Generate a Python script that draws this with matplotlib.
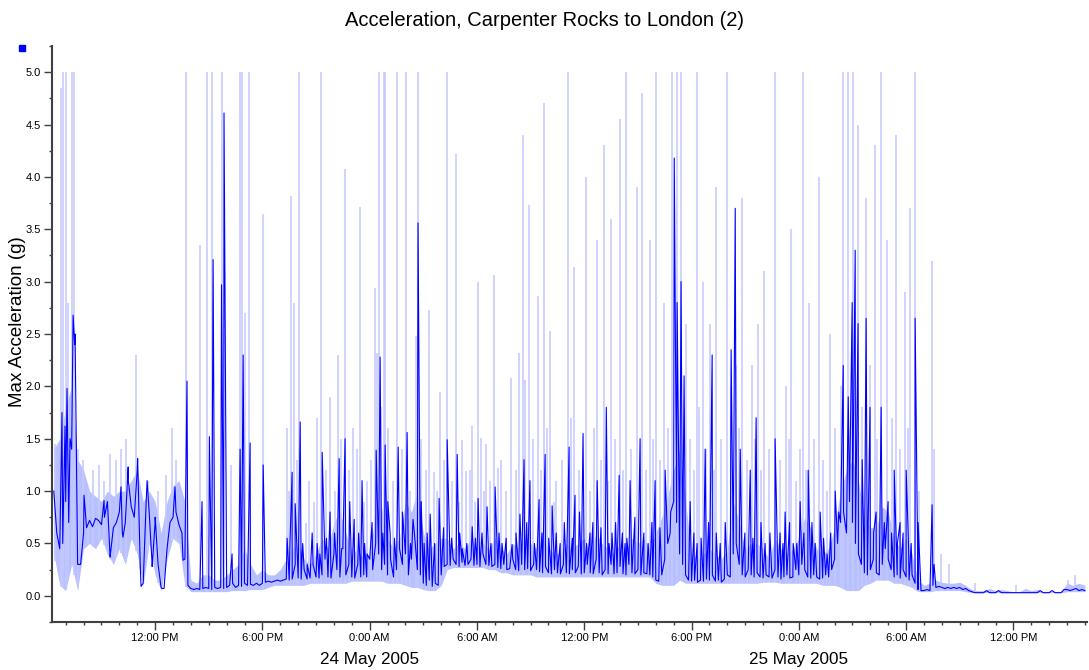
import matplotlib
matplotlib.use("Agg")
import matplotlib.pyplot as plt
import matplotlib.dates as mdates
from matplotlib.ticker import FuncFormatter, MultipleLocator, FormatStrFormatter
from matplotlib.lines import Line2D
import numpy as np
import pandas as pd

title = "Acceleration, Carpenter Rocks to London (2)"
y_label = "Max Acceleration (g)"
date_labels = ["24 May 2005", "25 May 2005"]
date_label_times = ["2005-05-24 00:00", "2005-05-25 00:00"]
series_start = "2005-05-23 06:20"
dark_step_minutes = 10
light_step_minutes = 20
x_start = "2005-05-23 06:14"
x_end = "2005-05-25 16:07"

# dark trace, 10-minute samples
dark_base = [1.00, 0.60, 0.45, 0.50, 0.90, 0.70, 1.40, 2.40, 0.30, 0.30,
             0.60, 0.65, 0.72, 0.66, 0.74, 0.72, 0.68, 0.75, 0.90, 0.40,
             0.65, 0.70, 0.80, 0.60, 0.70, 1.10, 0.85, 0.75, 1.20, 0.30,
             0.12, 0.90, 0.80, 0.30, 0.70, 0.30, 0.08, 0.07, 0.45, 0.70,
             0.75, 0.80, 0.68, 0.60, 0.35, 0.10, 0.07, 0.06, 0.07, 0.06,
             0.07, 0.08, 0.07, 0.06, 0.08, 0.07, 0.08, 0.07, 0.08, 0.10,
             0.12, 0.08, 0.10, 0.09, 0.12, 0.10, 0.11, 0.10, 0.12, 0.10,
             0.12, 0.13, 0.14, 0.13, 0.14, 0.15, 0.14, 0.15, 0.16, 0.15,
             0.16, 0.30, 0.17, 0.16, 0.25, 0.16, 0.17, 0.30, 0.18, 0.17,
             0.20, 0.35, 0.18, 0.17, 0.40, 0.25, 0.18, 0.45, 0.20, 0.30,
             0.18, 0.17, 0.30, 0.18, 0.20, 0.18, 0.35, 0.25, 0.50, 0.40,
             0.25, 0.30, 0.20, 0.35, 0.18, 0.25, 0.45, 0.30, 0.40, 0.20,
             0.35, 0.60, 0.25, 0.20, 0.12, 0.10, 0.15, 0.09, 0.12, 0.10,
             0.20, 0.28, 0.30, 0.29, 0.35, 0.30, 0.28, 0.32, 0.29, 0.30,
             0.35, 0.29, 0.30, 0.28, 0.40, 0.30, 0.29, 0.28, 0.30, 0.27,
             0.26, 0.30, 0.25, 0.26, 0.35, 0.25, 0.24, 0.30, 0.25, 0.26,
             0.24, 0.30, 0.25, 0.23, 0.22, 0.28, 0.22, 0.21, 0.25, 0.22,
             0.21, 0.30, 0.22, 0.21, 0.25, 0.22, 0.28, 0.21, 0.22, 0.30,
             0.22, 0.21, 0.35, 0.22, 0.20, 0.25, 0.21, 0.30, 0.21, 0.22,
             0.28, 0.21, 0.20, 0.30, 0.22, 0.21, 0.25, 0.20, 0.22, 0.21,
             0.20, 0.18, 0.15, 0.14, 0.20, 0.35, 0.50, 0.80, 0.90, 0.70,
             0.40, 0.30, 0.20, 0.15, 0.14, 0.15, 0.13, 0.15, 0.14, 0.16,
             0.15, 0.20, 0.14, 0.15, 0.13, 0.16, 0.20, 0.18, 0.40, 0.50,
             0.30, 0.20, 0.18, 0.25, 0.20, 0.18, 0.22, 0.18, 0.17, 0.20,
             0.18, 0.17, 0.25, 0.18, 0.16, 0.18, 0.20, 0.17, 0.18, 0.25,
             0.20, 0.30, 0.25, 0.18, 0.17, 0.20, 0.18, 0.16, 0.17, 0.20,
             0.18, 0.25, 0.35, 0.50, 0.70, 0.80, 0.60, 0.90, 0.70, 0.50,
             0.40, 0.30, 0.22, 0.20, 0.25, 0.35, 0.22, 0.20, 0.30, 0.45,
             0.35, 0.25, 0.18, 0.20, 0.17, 0.25, 0.18, 0.15, 0.20, 0.12,
             0.06, 0.05, 0.05, 0.06, 0.05, 0.10, 0.08, 0.09, 0.08, 0.07,
             0.08, 0.07, 0.08, 0.07, 0.08, 0.06, 0.07, 0.05, 0.04, 0.03,
             0.03, 0.03, 0.03, 0.05, 0.03, 0.03, 0.03, 0.05, 0.03, 0.03,
             0.03, 0.03, 0.03, 0.03, 0.03, 0.03, 0.03, 0.03, 0.03, 0.03,
             0.03, 0.05, 0.03, 0.03, 0.03, 0.05, 0.03, 0.03, 0.03, 0.06,
             0.06, 0.05, 0.06, 0.07, 0.05, 0.06, 0.05]

# light (max) band, 20-minute samples: low / high envelope
light_lo = [0.40, 0.10, 0.05, 0.30, 0.05, 0.45, 0.50, 0.45, 0.55, 0.40,
            0.30, 0.45, 0.30, 0.55, 0.40, 0.10, 0.50, 0.20, 0.05, 0.35,
            0.55, 0.50, 0.10, 0.04, 0.04, 0.04, 0.04, 0.04, 0.04, 0.04,
            0.05, 0.05, 0.05, 0.06, 0.06, 0.06, 0.08, 0.10, 0.10, 0.10,
            0.10, 0.10, 0.10, 0.12, 0.12, 0.12, 0.12, 0.12, 0.12, 0.12,
            0.14, 0.14, 0.14, 0.14, 0.14, 0.14, 0.12, 0.12, 0.12, 0.10,
            0.08, 0.08, 0.06, 0.05, 0.05, 0.10, 0.25, 0.27, 0.27, 0.27,
            0.27, 0.27, 0.27, 0.25, 0.25, 0.22, 0.22, 0.20, 0.20, 0.20,
            0.20, 0.18, 0.18, 0.18, 0.18, 0.18, 0.18, 0.18, 0.18, 0.18,
            0.18, 0.18, 0.18, 0.18, 0.18, 0.18, 0.18, 0.18, 0.18, 0.18,
            0.18, 0.12, 0.10, 0.10, 0.10, 0.15, 0.12, 0.12, 0.12, 0.12,
            0.12, 0.12, 0.12, 0.12, 0.12, 0.12, 0.12, 0.12, 0.12, 0.13,
            0.13, 0.13, 0.12, 0.12, 0.12, 0.12, 0.12, 0.12, 0.12, 0.10,
            0.10, 0.10, 0.08, 0.05, 0.05, 0.05, 0.10, 0.12, 0.15, 0.15,
            0.15, 0.12, 0.12, 0.10, 0.08, 0.04, 0.04, 0.04, 0.05, 0.05,
            0.05, 0.05, 0.05, 0.04, 0.03, 0.03, 0.03, 0.03, 0.03, 0.03,
            0.03, 0.03, 0.03, 0.03, 0.03, 0.03, 0.03, 0.03, 0.03, 0.03,
            0.04, 0.04, 0.04, 0.04]

light_hi = [1.40, 1.50, 1.80, 2.00, 1.30, 1.20, 1.00, 0.95, 0.90, 1.00,
            0.95, 1.00, 1.00, 1.10, 1.20, 0.90, 1.00, 0.90, 0.60, 0.90,
            1.05, 1.10, 0.90, 0.15, 0.12, 0.20, 0.20, 0.15, 0.15, 0.20,
            0.25, 0.30, 0.45, 0.30, 0.20, 0.25, 0.20, 0.20, 0.25, 0.35,
            0.45, 0.50, 0.35, 0.30, 0.40, 0.55, 0.45, 0.70, 0.80, 0.60,
            0.40, 0.45, 0.35, 0.40, 0.80, 0.85, 0.55, 0.45, 0.55, 0.90,
            0.80, 1.00, 0.60, 0.45, 0.50, 0.55, 0.55, 0.45, 0.50, 0.45,
            0.55, 0.45, 0.50, 0.45, 0.55, 0.45, 0.40, 0.50, 0.45, 0.55,
            0.50, 0.45, 0.55, 0.45, 0.40, 0.40, 0.50, 0.45, 0.50, 0.55,
            0.40, 0.60, 0.50, 0.45, 0.40, 0.50, 0.45, 0.55, 0.50, 0.55,
            0.45, 0.60, 0.75, 0.95, 1.20, 1.40, 0.90, 0.40, 0.35, 0.40,
            0.45, 0.40, 0.35, 0.45, 0.90, 0.70, 0.45, 0.50, 0.50, 0.45,
            0.35, 0.55, 0.45, 0.40, 0.45, 0.55, 0.75, 0.65, 0.45, 0.40,
            0.45, 0.65, 1.00, 1.20, 1.30, 1.10, 0.75, 0.65, 0.65, 0.85,
            0.80, 0.55, 0.45, 0.55, 0.40, 0.15, 0.10, 0.12, 0.15, 0.13,
            0.12, 0.12, 0.13, 0.10, 0.06, 0.05, 0.05, 0.07, 0.05, 0.06,
            0.05, 0.04, 0.04, 0.07, 0.05, 0.06, 0.04, 0.04, 0.04, 0.04,
            0.12, 0.10, 0.12, 0.10]

# dark trace peaks / dips (hours after series start, g)
dark_peak_h = [0.46, 0.63, 0.74, 0.91, 1.08, 1.19, 1.69, 2.81, 3.15, 3.76,
               3.87, 4.16, 4.69, 4.88, 5.22, 5.50, 5.67, 6.06, 6.78, 7.23,
               7.45, 8.29, 8.70, 8.91, 9.38, 9.52, 9.97, 10.42, 10.59, 10.98,
               11.71, 13.05, 13.33, 13.50, 13.78, 14.17, 14.73, 15.01, 15.45, 15.96,
               16.29, 16.80, 17.24, 17.52, 18.03, 18.25, 18.53, 18.81, 19.26, 19.76,
               20.09, 20.37, 20.71, 21.05, 21.55, 22.00, 22.56, 22.84, 23.40, 23.73,
               24.23, 24.68, 25.07, 25.63, 26.07, 26.30, 26.63, 27.14, 27.48, 27.87,
               28.32, 28.82, 29.15, 29.60, 29.99, 30.39, 30.90, 31.22, 31.62, 31.95,
               32.23, 32.79, 33.24, 33.63, 34.19, 34.47, 34.70, 34.86, 35.08, 35.25,
               35.59, 35.98, 36.43, 36.82, 37.27, 37.88, 38.11, 38.39, 38.95, 39.28,
               39.78, 40.34, 40.62, 40.90, 41.35, 41.74, 42.19, 42.58, 42.86, 43.25,
               43.70, 44.15, 44.43, 44.65, 44.82, 44.98, 45.21, 45.43, 45.65, 45.99,
               46.27, 46.66, 47.00, 47.33, 47.67, 47.95, 48.17, 48.34, 49.12, 49.23]
dark_peak_v = [1.75, 1.62, 1.98, 1.50, 2.68, 2.50, 0.96, 0.91, 0.37, 1.04,
               0.56, 1.23, 1.31, 0.09, 1.10, 0.28, 0.75, 0.07, 1.04, 0.34,
               2.05, 0.90, 1.52, 3.21, 2.97, 4.61, 0.40, 1.40, 2.30, 1.46,
               1.25, 0.55, 1.18, 0.88, 1.66, 0.30, 0.50, 1.37, 0.80, 1.31,
               1.50, 0.73, 1.10, 0.40, 1.39, 2.28, 1.44, 0.60, 1.42, 1.56,
               0.73, 3.56, 0.50, 0.78, 0.93, 1.49, 1.35, 0.45, 0.66, 0.93,
               0.85, 1.04, 0.50, 0.49, 0.78, 1.30, 1.10, 0.92, 1.35, 0.86,
               0.50, 1.42, 0.96, 1.55, 0.60, 1.10, 1.80, 0.60, 1.15, 0.50,
               1.10, 1.50, 0.50, 1.10, 1.20, 0.60, 4.18, 2.80, 3.00, 2.10,
               0.90, 0.50, 1.40, 2.30, 0.50, 2.35, 3.70, 1.40, 1.20, 1.70,
               0.50, 1.50, 0.60, 0.80, 0.50, 0.90, 1.20, 0.50, 0.80, 0.40,
               1.00, 2.20, 1.90, 2.80, 3.30, 2.60, 1.30, 2.65, 1.80, 0.80,
               1.80, 0.90, 1.20, 0.70, 1.20, 0.50, 2.65, 0.70, 0.87, 0.30]

# smaller dark peaks in the busy stretch
dark_minor_h = [13.20, 13.92, 14.45, 14.88, 15.25, 15.70, 16.10, 16.55, 17.05, 17.38,
                17.80, 18.40, 18.68, 19.05, 19.50, 19.95, 20.55, 20.88, 21.30, 21.80,
                22.25, 22.70, 23.10, 23.58, 23.95, 24.45, 24.90, 25.30, 25.85, 26.45,
                26.88, 27.30, 27.68, 28.10, 28.55, 29.00, 29.40, 29.80, 30.15, 30.60,
                31.05, 31.42, 31.80, 32.05, 32.50, 33.00, 33.45, 33.90, 35.80, 36.20,
                36.62, 37.05, 37.55, 38.65, 39.10, 39.55, 40.05, 40.78, 41.15, 41.55,
                41.95, 42.40, 43.05, 43.45, 43.90, 45.85, 46.45, 46.85, 47.18, 47.50,
                47.80]
dark_minor_v = [0.45, 0.50, 0.60, 0.40, 0.55, 0.60, 0.45, 0.90, 0.60, 0.50,
                0.70, 0.60, 0.90, 0.55, 0.80, 0.50, 0.90, 0.60, 0.50, 0.65,
                0.55, 0.60, 0.50, 0.55, 0.60, 0.50, 0.60, 0.55, 0.60, 0.70,
                0.50, 0.60, 0.55, 0.60, 0.70, 0.55, 0.80, 0.50, 0.70, 0.65,
                0.50, 0.70, 0.60, 0.55, 0.75, 0.60, 0.70, 0.65, 0.60, 0.55,
                0.70, 0.60, 0.70, 0.60, 0.55, 0.70, 0.60, 0.50, 0.70, 0.50,
                0.60, 0.70, 0.55, 0.60, 0.80, 0.60, 0.70, 0.60, 0.50, 0.60,
                0.50]

# light (max) isolated spikes (hours after series start, g)
light_spike_h = [0.07, 0.39, 0.46, 0.52, 0.70, 0.80, 1.02, 1.14, 1.36, 1.64,
                 1.92, 2.20, 2.53, 2.81, 3.15, 3.48, 3.76, 4.04, 4.38, 4.60,
                 4.83, 5.27, 5.83, 6.28, 6.62, 6.84, 7.40, 8.18, 8.58, 8.85,
                 9.41, 9.92, 10.42, 10.53, 10.70, 10.93, 11.71, 13.05, 13.27, 13.44,
                 13.72, 14.11, 14.73, 14.95, 15.45, 15.90, 16.29, 16.74, 17.13, 17.52,
                 17.97, 18.08, 18.19, 18.30, 18.47, 18.53, 19.20, 19.70, 20.26, 20.37,
                 20.99, 21.27, 21.60, 22.00, 22.50, 22.84, 23.06, 23.40, 23.73, 23.90,
                 24.18, 24.63, 24.85, 25.58, 26.02, 26.25, 26.36, 26.58, 27.09, 27.42,
                 27.76, 27.98, 28.76, 29.10, 29.77, 30.39, 30.78, 31.17, 31.67, 32.01,
                 32.62, 32.90, 33.35, 33.68, 34.13, 34.58, 34.86, 35.08, 35.36, 35.98,
                 36.31, 36.71, 37.04, 37.66, 38.16, 38.49, 39.05, 39.39, 39.73, 40.34,
                 40.96, 41.24, 41.91, 42.24, 42.80, 43.42, 44.15, 44.43, 44.70, 44.98,
                 45.43, 45.93, 46.27, 46.60, 47.11, 47.61, 47.89, 48.17, 49.12]
light_spike_v = [1.45, 4.85, 1.50, 5.00, 5.00, 2.80, 5.00, 5.00, 1.40, 1.30,
                 1.00, 1.20, 1.25, 1.10, 1.35, 1.30, 1.40, 1.50, 1.00, 2.30,
                 1.00, 1.10, 1.00, 1.15, 1.60, 1.30, 5.00, 3.35, 5.00, 5.00,
                 5.00, 1.25, 5.00, 5.00, 2.70, 5.00, 3.65, 1.60, 3.82, 2.80,
                 5.00, 0.70, 1.70, 5.00, 1.90, 2.30, 4.08, 1.60, 3.71, 1.10,
                 2.94, 2.32, 5.00, 1.80, 5.00, 5.00, 5.00, 5.00, 2.48, 5.00,
                 2.73, 1.18, 1.95, 5.00, 4.22, 1.49, 1.19, 1.62, 3.00, 1.51,
                 1.45, 3.06, 1.22, 2.08, 2.32, 4.40, 2.06, 3.73, 2.86, 4.71,
                 2.53, 0.90, 5.00, 3.14, 4.00, 3.40, 4.30, 3.60, 4.55, 5.00,
                 3.90, 4.80, 3.40, 5.00, 2.80, 5.00, 5.00, 5.00, 2.60, 5.00,
                 3.00, 2.60, 3.90, 5.00, 2.20, 3.80, 2.20, 2.60, 3.10, 5.00,
                 2.00, 3.50, 5.00, 2.80, 4.00, 2.50, 5.00, 5.00, 5.00, 4.50,
                 3.80, 4.30, 5.00, 3.40, 4.40, 2.90, 3.70, 5.00, 3.20]

# smaller light spikes
light_minor_h = [13.15, 13.60, 14.30, 14.55, 15.20, 15.70, 16.05, 16.50, 16.95, 17.35,
                 17.75, 18.70, 18.95, 19.45, 19.90, 20.55, 20.80, 21.45, 21.80, 22.25,
                 22.65, 23.25, 23.55, 24.05, 24.40, 25.00, 25.30, 25.85, 26.80, 27.25,
                 27.60, 28.10, 28.45, 28.95, 29.40, 30.00, 30.20, 30.60, 31.00, 31.40,
                 31.85, 32.30, 33.10, 33.50, 33.90, 34.35, 35.60, 35.80, 36.10, 36.50,
                 36.90, 37.30, 37.85, 38.30, 38.75, 39.20, 39.55, 40.00, 40.60, 41.10,
                 41.50, 41.75, 42.05, 42.50, 43.00, 43.25, 43.70, 44.00, 45.20, 45.65,
                 46.05, 46.85, 47.30, 47.75, 48.40, 49.25, 49.60, 50.05, 51.50, 53.80,
                 56.70, 57.10]
light_minor_v = [1.00, 1.30, 1.10, 0.90, 1.20, 1.00, 1.50, 1.20, 1.40, 0.90,
                 1.30, 1.60, 1.10, 1.40, 1.00, 1.50, 1.20, 1.00, 1.30, 1.10,
                 0.90, 1.20, 0.90, 1.00, 1.10, 1.30, 1.00, 1.20, 1.50, 1.20,
                 1.60, 1.10, 1.30, 1.70, 1.20, 1.00, 1.60, 1.30, 1.10, 1.50,
                 1.20, 1.40, 1.20, 1.50, 1.30, 1.60, 1.50, 1.20, 1.80, 1.40,
                 1.20, 1.50, 2.00, 1.60, 1.30, 1.50, 1.20, 1.40, 1.30, 1.50,
                 1.10, 1.40, 1.20, 1.50, 1.30, 1.00, 1.60, 2.00, 1.80, 2.20,
                 1.50, 1.70, 1.40, 1.60, 1.00, 1.40, 0.40, 0.30, 0.12, 0.10,
                 0.15, 0.20]

DARK = "#0000FF"
LIGHT = "#B9C0FF"
LIGHT_SPIKE = "#C3C8FF"
AXIS = "#404040"

plt.rcParams["font.family"] = ["Liberation Sans", "DejaVu Sans"]

t0 = pd.Timestamp(series_start)
t_dark = pd.date_range(series_start, periods=len(dark_base), freq=f"{dark_step_minutes}min")
t_light = pd.date_range(series_start, periods=len(light_lo), freq=f"{light_step_minutes}min")
light_num = mdates.date2num(t_light.to_pydatetime())

dark = pd.concat([
    pd.Series(dark_base, index=t_dark),
    pd.Series(dark_peak_v, index=t0 + pd.to_timedelta(dark_peak_h, unit="h")),
    pd.Series(dark_minor_v, index=t0 + pd.to_timedelta(dark_minor_h, unit="h")),
]).sort_index()

spikes = pd.concat([
    pd.Series(light_spike_v, index=t0 + pd.to_timedelta(light_spike_h, unit="h")),
    pd.Series(light_minor_v, index=t0 + pd.to_timedelta(light_minor_h, unit="h")),
]).sort_index()
spike_num = mdates.date2num(spikes.index.to_pydatetime())
spike_base = np.interp(spike_num, light_num, light_lo)

fig = plt.figure(figsize=(10.89, 6.70), dpi=100)
ax = fig.add_axes([52 / 1089, 48 / 670, (1087 - 52) / 1089, (622 - 46) / 670])

ax.fill_between(t_light, light_lo, light_hi, color=LIGHT, lw=0, zorder=1)
ax.vlines(spikes.index, spike_base, spikes.values, color=LIGHT_SPIKE, lw=1.1, zorder=1)
ax.plot(dark.index, dark.values, color=DARK, lw=0.8, zorder=2)

ax.set_xlim(pd.Timestamp(x_start), pd.Timestamp(x_end))
ax.set_ylim(-0.25, 5.25)

for s in ["top", "right"]:
    ax.spines[s].set_visible(False)
for s in ["left", "bottom"]:
    ax.spines[s].set_color(AXIS)
    ax.spines[s].set_linewidth(1.5)

ax.yaxis.set_major_locator(MultipleLocator(0.5))
ax.yaxis.set_minor_locator(MultipleLocator(0.25))
ax.yaxis.set_major_formatter(FormatStrFormatter("%.1f"))


def time_fmt(x, pos):
    d = mdates.num2date(x + 1e-7)
    h = d.hour
    hd = h if h <= 12 else h - 12
    return f"{hd}:{d.minute:02d} {'AM' if h < 12 else 'PM'}"


ax.xaxis.set_major_locator(mdates.HourLocator(byhour=[0, 6, 12, 18]))
ax.xaxis.set_minor_locator(mdates.HourLocator(interval=1))
ax.xaxis.set_major_formatter(FuncFormatter(time_fmt))

ax.tick_params(which="major", direction="out", length=6, width=1, color=AXIS,
               labelsize=8, pad=2)
ax.tick_params(which="minor", direction="out", length=2.5, width=1, color=AXIS)

for lbl, tt in zip(date_labels, date_label_times):
    ax.text(mdates.date2num(pd.Timestamp(tt).to_pydatetime()), -0.065, lbl,
            transform=ax.get_xaxis_transform(), ha="center", va="center",
            fontsize=12.3)

fig.text(0.5, 1 - 20 / 670, title, ha="center", va="center", fontsize=14.5)
fig.text(18 / 1089, 1 - 322 / 670, y_label, rotation=90, ha="center",
         va="center", fontsize=13.5)
fig.add_artist(Line2D([22 / 1089], [1 - 48 / 670], marker="s", markersize=4.5,
                      color=DARK, transform=fig.transFigure))

fig.savefig("out.png", dpi=100)
